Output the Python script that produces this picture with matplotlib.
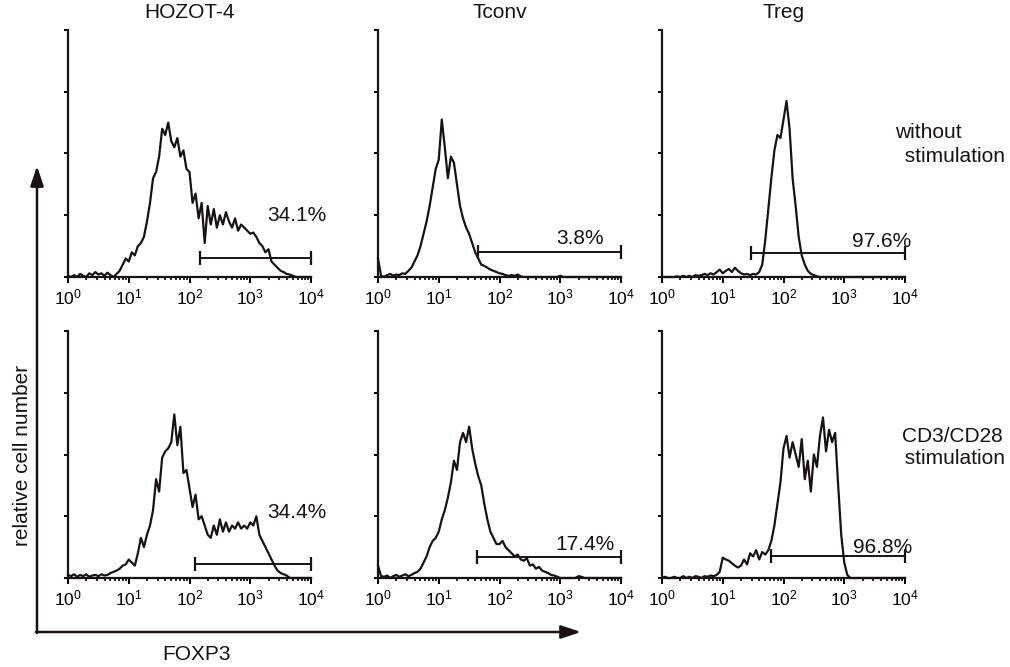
import numpy as np
import matplotlib
matplotlib.use("Agg")
import matplotlib.pyplot as plt

plt.rcParams["font.family"] = ["Liberation Sans", "DejaVu Sans"]
plt.rcParams["mathtext.fontset"] = "custom"
plt.rcParams["mathtext.rm"] = "Liberation Sans"
plt.rcParams["mathtext.it"] = "Liberation Sans"
plt.rcParams["mathtext.default"] = "regular"

# FOXP3 channels, log10 steps of 0.05 from 10^0 to 10^4
log_x = np.arange(81) * 0.05

col_titles = ["HOZOT-4", "Tconv", "Treg"]
row_titles = [["without", " stimulation"], ["CD3/CD28", " stimulation"]]

# relative cell number per channel
hozot_unstim = [0.02, 0.0, 0.03, 0.0, 0.05, 0.02, 0.0, 0.06, 0.03, 0.08, 0.04, 0.06, 0.02, 0.07, 0.03, 0.0, 0.05,
                0.1, 0.2, 0.3, 0.25, 0.4, 0.35, 0.5, 0.55, 0.65, 0.9, 1.2, 1.6, 1.7, 1.95, 2.4, 2.3, 2.5, 2.2, 2.1,
                2.25, 1.95, 2.05, 1.75, 1.7, 1.2, 1.35, 0.95, 1.2, 0.55, 1.15, 0.85, 1.1, 0.8, 1.0, 0.85, 1.05, 0.9,
                0.8, 0.95, 0.75, 0.85, 0.8, 0.75, 0.7, 0.72, 0.65, 0.55, 0.5, 0.4, 0.45, 0.25, 0.2, 0.15, 0.1, 0.08,
                0.05, 0.04, 0.02, 0.0, 0.0, 0.0, 0.0, 0.0, 0.0]
tconv_unstim = [0.3, 0.02, 0.0, 0.03, 0.05, 0.02, 0.04, 0.03, 0.06, 0.05, 0.1, 0.15, 0.25, 0.35, 0.5, 0.7, 0.9,
                1.15, 1.45, 1.75, 1.9, 2.55, 2.1, 1.6, 1.95, 1.85, 1.5, 1.15, 0.95, 0.8, 0.7, 0.55, 0.4, 0.3, 0.2,
                0.18, 0.15, 0.12, 0.1, 0.08, 0.06, 0.05, 0.03, 0.02, 0.03, 0.02, 0.04, 0.01, 0.0, 0.0, 0.0, 0.0,
                0.0, 0.0, 0.0, 0.0, 0.0, 0.0, 0.0, 0.0, 0.02, 0.0, 0.0, 0.0, 0.0, 0.0, 0.0, 0.0, 0.0, 0.0, 0.0,
                0.0, 0.0, 0.0, 0.0, 0.0, 0.0, 0.0, 0.0, 0.0, 0.0]
treg_unstim = [0.0, 0.0, 0.0, 0.0, 0.0, 0.01, 0.0, 0.02, 0.0, 0.02, 0.0, 0.03, 0.02,
               0.03, 0.05, 0.03, 0.06, 0.04, 0.08, 0.12, 0.06, 0.1, 0.13, 0.08, 0.15, 0.1, 0.06, 0.04, 0.05, 0.03,
               0.05, 0.04, 0.08, 0.2, 0.6, 1.1, 1.6, 2.05, 2.3, 2.25, 2.55, 2.85, 2.4, 1.6, 1.15, 0.65, 0.35, 0.2,
               0.1, 0.05, 0.03, 0.01, 0.0, 0.0, 0.0, 0.0, 0.0, 0.0, 0.0, 0.0, 0.0, 0.0, 0.0, 0.0, 0.0, 0.0, 0.0,
               0.0, 0.0, 0.0, 0.0, 0.0, 0.0, 0.0, 0.0, 0.0, 0.0, 0.0, 0.0, 0.0, 0.0]
hozot_stim = [0.05, 0.03, 0.06, 0.02, 0.05, 0.03, 0.06, 0.02, 0.04, 0.05, 0.03, 0.06, 0.04, 0.05, 0.08, 0.1,
              0.12, 0.15, 0.2, 0.22, 0.3, 0.25, 0.2, 0.4, 0.65, 0.5, 0.7, 0.85, 1.1, 1.6, 1.4, 1.95, 2.05, 2.1,
              2.2, 2.65, 2.15, 2.45, 1.7, 1.75, 1.45, 1.15, 1.35, 0.95, 1.0, 0.85, 0.7, 0.65, 0.85, 0.7, 0.95,
              0.75, 0.9, 0.75, 0.85, 0.8, 0.9, 0.8, 0.85, 0.8, 0.9, 0.85, 1.0, 0.7, 0.6, 0.5, 0.4, 0.3, 0.2, 0.12,
              0.08, 0.06, 0.04, 0.0, 0.0, 0.0, 0.0, 0.0, 0.0, 0.0, 0.0]
tconv_stim = [0.2, 0.03, 0.02, 0.04, 0.0, 0.03, 0.05, 0.02, 0.04, 0.06, 0.03, 0.05, 0.08,
              0.1, 0.15, 0.25, 0.35, 0.5, 0.6, 0.65, 0.75, 0.95, 1.1, 1.3, 1.55, 1.9, 1.75, 2.2, 2.35, 2.2, 2.45,
              2.1, 1.85, 1.65, 1.5, 1.2, 0.95, 0.75, 0.65, 0.55, 0.55, 0.6, 0.5, 0.45, 0.4, 0.35, 0.38, 0.3, 0.28,
              0.32, 0.2, 0.22, 0.15, 0.18, 0.12, 0.1, 0.08, 0.05, 0.04, 0.02, 0.0,
              0.0, 0.0, 0.0, 0.0, 0.0, 0.03, 0.02, 0.0, 0.0, 0.0, 0.0, 0.0, 0.0, 0.0, 0.0, 0.0, 0.0, 0.0, 0.0, 0.0]
treg_stim = [0.0, 0.02, 0.0, 0.0, 0.02, 0.0, 0.0, 0.03, 0.0, 0.02, 0.0, 0.03, 0.02, 0.0, 0.03, 0.02, 0.04, 0.03,
             0.05, 0.1, 0.33, 0.3, 0.28, 0.24, 0.2, 0.17, 0.2, 0.3, 0.22, 0.4, 0.35, 0.45, 0.3, 0.42, 0.38, 0.45,
             0.6, 0.85, 1.2, 1.55, 2.1, 2.3, 1.95, 2.2, 2.0, 1.8, 2.25, 1.6, 1.9, 1.4, 2.0, 1.8, 2.3, 2.6, 2.05,
             2.4, 2.2, 2.35, 1.5, 0.7, 0.25, 0.05, 0.0, 0.0, 0.0, 0.0, 0.0, 0.0, 0.0, 0.0, 0.0, 0.0, 0.0, 0.0,
             0.0, 0.0, 0.0, 0.0, 0.0, 0.0, 0.0]

histograms = [[hozot_unstim, tconv_unstim, treg_unstim],
              [hozot_stim, tconv_stim, treg_stim]]

# gate: start (log10), height, percentage
gate_start = [[2.17, 1.64, 1.46], [2.09, 1.63, 1.79]]
gate_level = [[0.31, 0.40, 0.39], [0.22, 0.34, 0.36]]
gate_pct = [["34.1%", "3.8%", "97.6%"], ["34.4%", "17.4%", "96.8%"]]

# label placement (right edge in log10, centre height)
label_right = [[4.26, 3.71, 4.11], [4.26, 3.90, 4.12]]
label_y = [[0.99, 0.63, 0.57], [1.06, 0.54, 0.50]]

W, H = 1010, 667
fig = plt.figure(figsize=(W / 100, H / 100), dpi=100)

lefts = [68, 378, 662]
tops = [30, 331]
aw, ah = 243, 247
ink = "#1a1212"

for r in range(2):
    for c in range(3):
        ax = fig.add_axes([lefts[c] / W, 1 - (tops[r] + ah) / H, aw / W, ah / H])
        ax.plot(10 ** log_x, histograms[r][c], color=ink, lw=1.6, clip_on=False)
        ax.set_xscale("log")
        ax.set_xlim(1, 1e4)
        ax.set_ylim(0, 4)
        ax.set_yticks(range(5))
        ax.set_yticklabels([])
        ax.set_xticks([10 ** k for k in range(5)])
        ax.set_xticklabels(["$10^{%d}$" % k for k in range(5)], fontsize=12.5)
        ax.tick_params(axis="x", which="major", direction="out", length=4.5, width=1.4, pad=3)
        ax.tick_params(axis="x", which="minor", direction="out", length=2.5, width=1.2)
        ax.tick_params(axis="y", direction="out", length=3, width=1.4)
        for s in ["top", "right"]:
            ax.spines[s].set_visible(False)
        for s in ["left", "bottom"]:
            ax.spines[s].set_linewidth(1.6)
            ax.spines[s].set_color(ink)

        g0 = 10 ** gate_start[r][c]
        gy = gate_level[r][c]
        ax.plot([g0, 1e4], [gy, gy], color=ink, lw=1.4, clip_on=False)
        ax.plot([g0, 1e4], [gy, gy], ls="none", marker="|", ms=10, mew=1.6, color=ink, clip_on=False)
        ax.text(10 ** label_right[r][c], label_y[r][c], gate_pct[r][c], ha="right", va="center",
                fontsize=15, color=ink, clip_on=False)

for c in range(3):
    fig.text((lefts[c] + aw / 2) / W, 1 - 12 / H, col_titles[c], ha="center", va="center",
             fontsize=15, color=ink)

row_x = [[895, 899], [902, 899]]
row_y = [[133, 156], [437, 458]]
for r in range(2):
    for k in range(2):
        fig.text(row_x[r][k] / W, 1 - row_y[r][k] / H, row_titles[r][k], ha="left", va="center",
                 fontsize=15, color=ink)

# big axis arrows
ov = fig.add_axes([0, 0, 1, 1], facecolor="none")
ov.set_xlim(0, W)
ov.set_ylim(H, 0)
ov.axis("off")
ov.annotate("", xy=(37, 166), xytext=(37, 633),
            arrowprops=dict(arrowstyle="-|>,head_length=1.2,head_width=0.4", lw=1.8, color=ink,
                            shrinkA=0, shrinkB=0))
ov.annotate("", xy=(581, 632), xytext=(36, 632),
            arrowprops=dict(arrowstyle="-|>,head_length=1.2,head_width=0.4", lw=1.8, color=ink,
                            shrinkA=0, shrinkB=0))
ov.text(23, 455, "relative cell number", rotation=90, ha="center", va="center", fontsize=15, color=ink)
ov.text(196, 655, "FOXP3", ha="center", va="center", fontsize=15, color=ink)

fig.savefig("out.png", dpi=100)
